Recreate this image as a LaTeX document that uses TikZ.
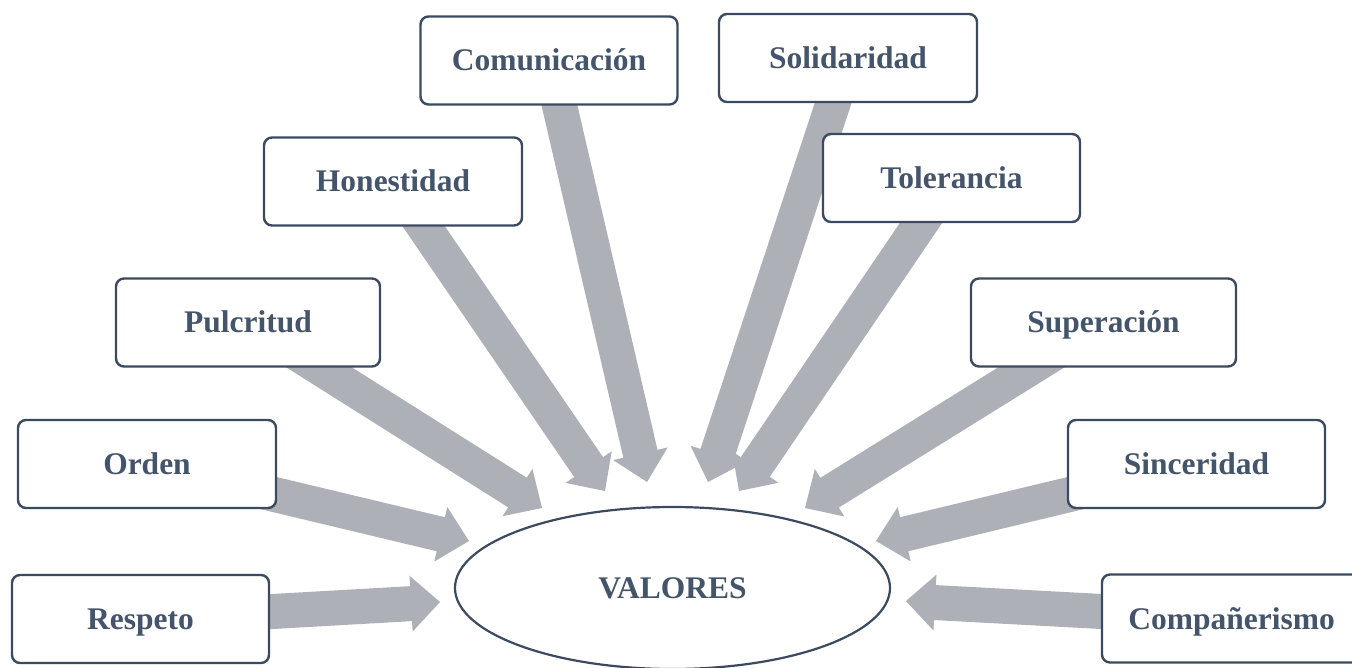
\documentclass[tikz,border=0pt]{standalone}
\usepackage{fontspec}
\setmainfont{Liberation Serif}
\usetikzlibrary{calc,shapes.geometric,backgrounds}
\definecolor{textc}{RGB}{68,84,106}
\definecolor{linec}{RGB}{59,74,95}
\definecolor{arrowc}{RGB}{174,176,183}
\newcommand{\blockarrow}[2]{%
  \coordinate (ba-b) at ($(#2)!29pt!(#1.center)$);
  \fill[arrowc] ($(#1.center)!17.5pt!90:(#2)$) -- ($(ba-b)!17.5pt!90:(#2)$) -- ($(ba-b)!28pt!90:(#2)$) -- (#2) -- ($(ba-b)!28pt!-90:(#2)$) -- ($(ba-b)!17.5pt!-90:(#2)$) -- ($(#1.center)!17.5pt!-90:(#2)$) -- cycle;}
\tikzset{
  valbox/.style={draw=linec, line width=2.4pt, fill=white, rounded corners=8pt,
    minimum width=257pt, minimum height=88pt, inner sep=0pt,
    text height=21pt, text depth=0pt,
    text=textc, font=\fontsize{31.5}{36}\selectfont\bfseries},
  centre/.style={draw=linec, line width=2.2pt, fill=white, ellipse,
    minimum width=435pt, minimum height=162pt, inner sep=0pt,
    text height=21pt, text depth=0pt,
    text=textc, font=\fontsize{31.5}{36}\selectfont\bfseries}
}
\begin{document}
\begin{tikzpicture}[x=1pt,y=-1pt]
\useasboundingbox (0,0) rectangle (1352,668);
\clip (0,0) rectangle (1352,668);

\node[valbox] (com) at (549,60.5) {Comunicación};
\node[valbox, minimum width=258pt] (sol) at (848,58) {Solidaridad};
\node[valbox, minimum width=258pt] (hon) at (393,181.5) {Honestidad};
\node[valbox] (tol) at (951.5,178) {Tolerancia};
\node[valbox, minimum width=264pt] (pul) at (248,322.5) {Pulcritud};
\node[valbox, minimum width=265pt] (sup) at (1103.5,322.5) {Superación};
\node[valbox, minimum width=258pt] (ord) at (147,464) {Orden};
\node[valbox] (sin) at (1196.5,464) {Sinceridad};
\node[valbox] (res) at (140.5,619) {Respeto};
\node[valbox, minimum width=259pt] (comp) at (1231.5,618.5) {Compañerismo};
\node[centre] (val) at (672.5,588) {VALORES};

\coordinate (t-res) at (440,602);
\coordinate (t-ord) at (469,541);
\coordinate (t-pul) at (542,508);
\coordinate (t-hon) at (605,491);
\coordinate (t-com) at (647,482);
\coordinate (t-sol) at (708,482);
\coordinate (t-tol) at (739,491);
\coordinate (t-sup) at (805,508);
\coordinate (t-sin) at (876,541);
\coordinate (t-comp) at (906,601);

\begin{scope}[on background layer]
\fill[white] (0,0) rectangle (1352,668);
\blockarrow{res}{t-res}
\blockarrow{ord}{t-ord}
\blockarrow{pul}{t-pul}
\blockarrow{hon}{t-hon}
\blockarrow{com}{t-com}
\blockarrow{sol}{t-sol}
\blockarrow{tol}{t-tol}
\blockarrow{sup}{t-sup}
\blockarrow{sin}{t-sin}
\blockarrow{comp}{t-comp}
\end{scope}
\end{tikzpicture}
\end{document}
